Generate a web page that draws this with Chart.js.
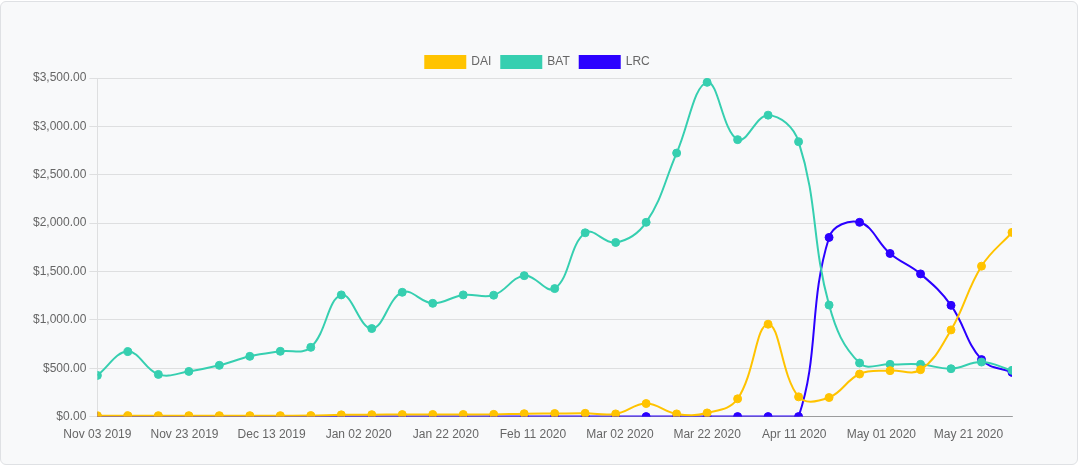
<!DOCTYPE html>
<html>
<head>
<meta charset="utf-8">
<script src="https://cdn.jsdelivr.net/npm/chart.js@4/dist/chart.umd.min.js"></script>
<style>
  html, body { margin: 0; padding: 0; background: #fff; }
  .card {
    position: absolute; left: 0; top: 1px; width: 1076px; height: 462px;
    border: 1px solid #dfe1e4; border-radius: 6px; background: #f8f9fa;
  }
  .wrap { position: absolute; left: 0; top: 0; width: 1078px; height: 465px; }
</style>
</head>
<body>
<div class="card"></div>
<div class="wrap"><canvas id="chart"></canvas></div>
<script>
// weekly snapshots
const weeks = [
  '2019-11-03', '2019-11-10', '2019-11-17', '2019-11-24', '2019-12-01', '2019-12-08',
  '2019-12-15', '2019-12-22', '2019-12-29', '2020-01-05', '2020-01-12', '2020-01-19',
  '2020-01-26', '2020-02-02', '2020-02-09', '2020-02-16', '2020-02-23', '2020-03-01',
  '2020-03-08', '2020-03-15', '2020-03-22', '2020-03-29', '2020-04-05', '2020-04-12',
  '2020-04-19', '2020-04-26', '2020-05-03', '2020-05-10', '2020-05-17', '2020-05-24',
  '2020-05-31'
];

const dai = [
  10, 10, 10, 10, 10, 10, 10, 11, 18, 20, 21, 22,
  22, 23, 30, 32, 34, 28, 135, 28, 38, 184, 955, 204,
  197, 440, 475, 485, 896, 1555, 1904
];
const bat = [
  426, 672, 436, 467, 530, 623, 675, 716, 1258, 910, 1285, 1171,
  1258, 1255, 1457, 1323, 1900, 1800, 2008, 2724, 3455, 2863, 3116, 2842,
  1153, 554, 540, 540, 495, 564, 478
];
const lrc = [
  0, 0, 0, 0, 0, 0, 0, 0, 0, 0, 0, 0,
  0, 0, 0, 0, 0, 0, 0, 0, 0, 0, 0, 0,
  1852, 2008, 1686, 1475, 1150, 589, 457
];

const tickDates = [
  '2019-11-03', '2019-11-23', '2019-12-13', '2020-01-02', '2020-01-22', '2020-02-11',
  '2020-03-02', '2020-03-22', '2020-04-11', '2020-05-01', '2020-05-21'
];

const MONTHS = ['Jan', 'Feb', 'Mar', 'Apr', 'May', 'Jun', 'Jul', 'Aug', 'Sep', 'Oct', 'Nov', 'Dec'];
const DAY = 86400000;
const start = Date.parse(weeks[0]);

const dayOffset = (d) => (Date.parse(d) - start) / DAY;

function fmtDate(offset) {
  const d = new Date(start + offset * DAY);
  const dd = String(d.getUTCDate()).padStart(2, '0');
  return `${MONTHS[d.getUTCMonth()]} ${dd} ${d.getUTCFullYear()}`;
}

const series = (values) => weeks.map((w, i) => ({ x: dayOffset(w), y: values[i] }));

function lineSet(label, values, color) {
  return {
    label,
    data: series(values),
    borderColor: color,
    backgroundColor: color,
    borderWidth: 2,
    tension: 0.4,
    fill: false,
    pointRadius: 4,
    pointBorderWidth: 1,
  };
}

Chart.defaults.font.family = "'Helvetica Neue', Helvetica, Arial, sans-serif";
Chart.defaults.font.size = 12;
Chart.defaults.color = '#666';

new Chart(document.getElementById('chart'), {
  type: 'line',
  data: {
    datasets: [
      lineSet('DAI', dai, '#ffc300'),
      lineSet('BAT', bat, '#36cfb0'),
      lineSet('LRC', lrc, '#2b00ff'),
    ],
  },
  options: {
    responsive: true,
    maintainAspectRatio: false,
    animation: false,
    layout: { padding: { left: 30, right: 33, top: 46, bottom: 20 } },
    plugins: {
      legend: {
        position: 'top',
        labels: { boxWidth: 40, boxHeight: 12 },
      },
      tooltip: { enabled: false },
    },
    scales: {
      x: {
        type: 'linear',
        min: 0,
        max: dayOffset(weeks[weeks.length - 1]),
        grid: { display: false },
        border: { color: 'rgba(0,0,0,0.3)' },
        afterBuildTicks: (scale) => {
          scale.ticks = tickDates.map((d) => ({ value: dayOffset(d) }));
        },
        ticks: {
          autoSkip: false,
          maxRotation: 0,
          callback: (value) => fmtDate(value),
        },
      },
      y: {
        min: 0,
        max: 3500,
        ticks: {
          stepSize: 500,
          callback: (value) =>
            '$' + Number(value).toLocaleString('en-US', { minimumFractionDigits: 2, maximumFractionDigits: 2 }),
        },
      },
      // empty right-hand axis, keeps the plot off the right edge
      pad: {
        type: 'linear',
        position: 'right',
        grid: { display: false },
        border: { display: false },
        ticks: { display: false },
        afterFit: (scale) => { scale.width = 33; },
      },
    },
  },
});
</script>
</body>
</html>
